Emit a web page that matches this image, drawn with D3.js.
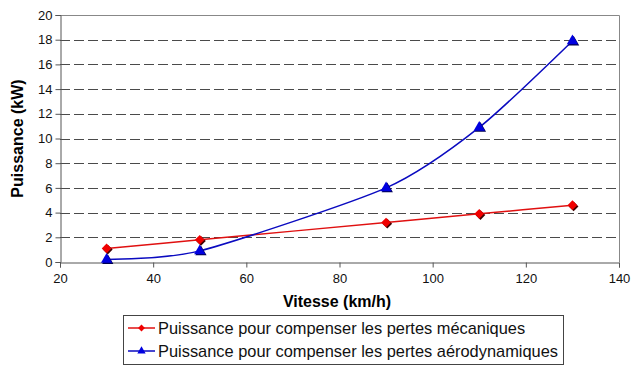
<!DOCTYPE html>
<html>
<head>
<meta charset="utf-8">
<script src="https://cdn.jsdelivr.net/npm/d3@7"></script>
<style>
  body { margin: 0; background: #fff; }
  text { font-family: Arial, "Liberation Sans", sans-serif; }
</style>
</head>
<body>
<div class="playground"></div>
<script>
// data
var vitesse     = [30, 50, 90, 110, 130];
var mecaniques  = [1.1, 1.8, 3.2, 3.9, 4.6];
var aero        = [0.2, 0.9, 6.0, 10.9, 17.9];
var xTicks      = [20, 40, 60, 80, 100, 120, 140];
var yTicks      = [0, 2, 4, 6, 8, 10, 12, 14, 16, 18, 20];
var seriesNames = ["Puissance pour compenser les pertes mécaniques",
                   "Puissance pour compenser les pertes aérodynamiques"];

var width  = 640,
    height = 374;
var pLeft = 60, pRight = 619, pTop = 15, pBottom = 262;

var svg = d3.select(".playground").append("svg")
            .attr("width", width)
            .attr("height", height);

var x = d3.scaleLinear().domain([20, 140]).range([pLeft, pRight]);
var y = d3.scaleLinear().domain([0, 20]).range([pBottom, pTop]);

// gridlines
svg.append("g")
   .selectAll("line")
   .data(yTicks.filter(function(d) { return d > 0 && d < 20; }))
   .enter().append("line")
   .attr("x1", pLeft).attr("x2", pRight)
   .attr("y1", function(d) { return Math.round(y(d)) + 0.5; })
   .attr("y2", function(d) { return Math.round(y(d)) + 0.5; })
   .attr("stroke", "#4a4a4a")
   .attr("stroke-width", 1)
   .attr("stroke-dasharray", "10,4");

// plot frame (top + right)
svg.append("path")
   .attr("d", "M" + pLeft + "," + (pTop + 0.5) + "H" + (pRight + 0.5) + "V" + pBottom)
   .attr("fill", "none")
   .attr("stroke", "#888")
   .attr("stroke-width", 1);

// axes
var xAxis = svg.append("g")
   .attr("transform", "translate(0," + (pBottom + 0.5) + ")")
   .call(d3.axisBottom(x).tickValues(xTicks).tickSize(5).tickPadding(6));
var yAxis = svg.append("g")
   .attr("transform", "translate(" + (pLeft + 0.5) + ",0)")
   .call(d3.axisLeft(y).tickValues(yTicks).tickSize(5).tickPadding(3));

[xAxis, yAxis].forEach(function(a) {
  a.attr("font-family", "Arial, 'Liberation Sans', sans-serif").attr("font-size", 13);
  a.select(".domain").attr("stroke", "#555");
  a.selectAll(".tick line").attr("stroke", "#555");
  a.selectAll("text").attr("fill", "#111");
});

// axis titles
svg.append("text")
   .attr("x", 337)
   .attr("y", 307)
   .attr("text-anchor", "middle")
   .attr("font-size", 16)
   .attr("font-weight", "bold")
   .text("Vitesse (km/h)");

svg.append("text")
   .attr("transform", "translate(23," + ((pTop + pBottom) / 2) + ") rotate(-90)")
   .attr("text-anchor", "middle")
   .attr("font-size", 16)
   .attr("font-weight", "bold")
   .text("Puissance (kW)");

// lines
var line = d3.line()
             .x(function(d) { return x(d[0]); })
             .y(function(d) { return y(d[1]); })
             .curve(d3.curveCardinal.tension(0.3));

var redPts  = vitesse.map(function(v, i) { return [v, mecaniques[i]]; });
var bluePts = vitesse.map(function(v, i) { return [v, aero[i]]; });

svg.append("path").datum(redPts)
   .attr("d", line).attr("fill", "none")
   .attr("stroke", "#e01010").attr("stroke-width", 1.5);
svg.append("path").datum(bluePts)
   .attr("d", line).attr("fill", "none")
   .attr("stroke", "#0a0ac0").attr("stroke-width", 1.5);

var diamond  = d3.symbol().type(d3.symbolDiamond2).size(60);
var triangle = d3.symbol().type(d3.symbolTriangle).size(55);

function drawMarkers(pts, sym, fill, shadow) {
  var g = svg.append("g");
  g.selectAll(".sh").data(pts).enter().append("path")
   .attr("d", sym)
   .attr("transform", function(d) { return "translate(" + (x(d[0]) + 1.2) + "," + (y(d[1]) + 1.2) + ")"; })
   .attr("fill", shadow);
  g.selectAll(".mk").data(pts).enter().append("path")
   .attr("d", sym)
   .attr("transform", function(d) { return "translate(" + x(d[0]) + "," + y(d[1]) + ")"; })
   .attr("fill", fill);
}
drawMarkers(redPts, diamond, "#f00000", "#400000");
drawMarkers(bluePts, triangle, "#0000e0", "#000050");

// legend
var legend = svg.append("g");
legend.append("rect")
      .attr("x", 123.5).attr("y", 315.5)
      .attr("width", 440).attr("height", 49)
      .attr("fill", "#fff").attr("stroke", "#444");

var legendRows = [
  { name: seriesNames[0], color: "#e01010", sym: d3.symbolDiamond2, fill: "#f00000" },
  { name: seriesNames[1], color: "#0a0ac0", sym: d3.symbolTriangle, fill: "#0000e0" }
];
legendRows.forEach(function(r, i) {
  var cy = 328 + i * 23;
  legend.append("line")
        .attr("x1", 128).attr("x2", 155)
        .attr("y1", cy).attr("y2", cy)
        .attr("stroke", r.color).attr("stroke-width", 1.5);
  legend.append("path")
        .attr("d", d3.symbol().type(r.sym).size(30))
        .attr("transform", "translate(141.5," + cy + ")")
        .attr("fill", r.fill);
  legend.append("text")
        .attr("x", 158).attr("y", cy + 5.5)
        .attr("font-size", 16.4)
        .attr("fill", "#111")
        .text(r.name);
});
</script>
</body>
</html>
